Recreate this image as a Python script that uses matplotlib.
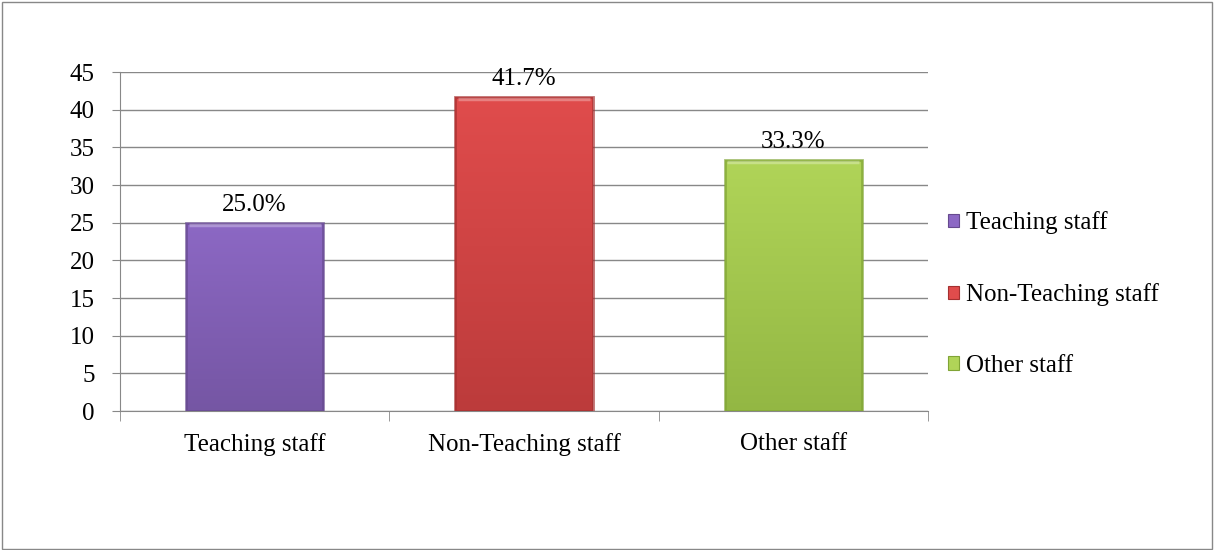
import matplotlib.pyplot as plt
import numpy as np
from matplotlib.patches import Rectangle
from matplotlib.colors import LinearSegmentedColormap

categories = ["Teaching staff", "Non-Teaching staff", "Other staff"]
values = [25.0, 41.7, 33.3]
value_labels = ["25.0%", "41.7%", "33.3%"]
# light / dark shade for each bar's gradient
shades = [("#8c68c4", "#664a8e"), ("#e04c4c", "#a43030"), ("#b0d458", "#80a436")]

plt.rcParams['font.family'] = ['Liberation Serif', 'DejaVu Serif']
FS = 18

fig = plt.figure(figsize=(12.14, 5.5), dpi=100)
fig.patches.append(Rectangle((0.002, 0.002), 0.996, 0.995, transform=fig.transFigure,
                             fill=False, edgecolor='#888888', linewidth=1.0))

ax = fig.add_axes([0.0988, 0.2527, 0.6656, 0.6163])
x = np.arange(len(categories))
width = 0.51

bars = ax.bar(x, values, width=width, color='none', edgecolor='none', zorder=3)
for bar, (light, dark) in zip(bars, shades):
    x0, w, h = bar.get_x(), bar.get_width(), bar.get_height()
    cmap = LinearSegmentedColormap.from_list('shade', [dark, light])
    # vertical gradient, lighter at the top
    grad = np.linspace(0, 1, 256).reshape(-1, 1)
    grad = 0.4 + 0.6 * grad
    im = ax.imshow(grad, extent=(x0, x0 + w, 0, h), origin='lower', aspect='auto',
                   cmap=cmap, vmin=0, vmax=1, zorder=3)
    im.set_clip_path(bar)
    # bevel: darker rim, light strip along the top
    ax.add_patch(Rectangle((x0, 0), w, h, fill=False, edgecolor=dark,
                           linewidth=2.0, alpha=0.7, zorder=4))
    ax.plot([x0 + 0.01, x0 + w - 0.01], [h - 0.25, h - 0.25], color='white',
            alpha=0.3, linewidth=2.5, zorder=5, solid_capstyle='butt')

for xi, v, lab in zip(x, values, value_labels):
    ax.annotate(lab, (xi, v), xytext=(0, 5), textcoords='offset points',
                ha='center', va='bottom', fontsize=FS)

ax.set_xlim(-0.5, len(categories) - 0.5)
ax.set_ylim(0, 45)
ax.set_yticks(range(0, 46, 5))
ax.set_xticks(x)
ax.set_xticklabels(categories)
ax.set_xticks(np.arange(-0.5, len(categories), 1.0), minor=True)
ax.tick_params(axis='x', which='major', length=0, pad=16, labelsize=FS)
ax.tick_params(axis='x', which='minor', length=7, color='#888888', direction='out')
ax.tick_params(axis='y', length=6, color='#888888', direction='out', labelsize=FS, pad=12)

ax.yaxis.grid(True, color='#888888', linewidth=1.0, zorder=0)
ax.set_axisbelow(True)
for side in ('top', 'right'):
    ax.spines[side].set_visible(False)
for side in ('left', 'bottom'):
    ax.spines[side].set_color('#888888')

handles = [Rectangle((0, 0), 1, 1, facecolor=(light), edgecolor=dark, linewidth=0.8)
           for light, dark in shades]
fig.legend(handles, categories, loc='center left', bbox_to_anchor=(0.762, 0.465),
           frameon=False, fontsize=FS, handlelength=0.45, handleheight=0.45,
           handletextpad=0.3, labelspacing=1.95)

fig.savefig('out.png', dpi=100)
